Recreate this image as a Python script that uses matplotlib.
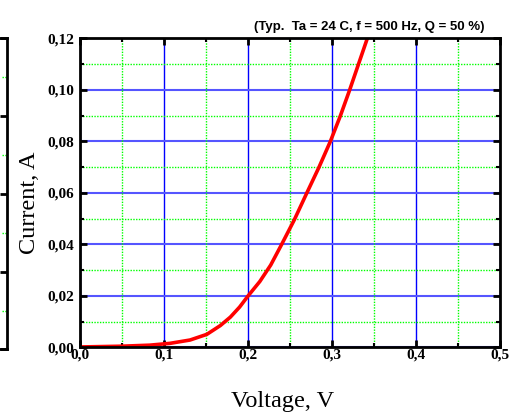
import matplotlib
matplotlib.use("Agg")
import matplotlib.pyplot as plt
from matplotlib.ticker import MultipleLocator, FuncFormatter

voltage = [0.0, 0.05, 0.083, 0.107, 0.131, 0.151, 0.167, 0.179, 0.190, 0.200, 0.214, 0.227,
           0.240, 0.255, 0.270, 0.2845, 0.298, 0.310, 0.321, 0.3315, 0.342, 0.352]
current = [0.0002, 0.0005, 0.0009, 0.0016, 0.0029, 0.0051, 0.0085, 0.0118, 0.0157, 0.0200, 0.0256, 0.032,
           0.0400, 0.0495, 0.060, 0.070, 0.080, 0.090, 0.100, 0.110, 0.120, 0.1295]

x_ticks = [0.0, 0.1, 0.2, 0.3, 0.4, 0.5]
y_ticks = [0.00, 0.02, 0.04, 0.06, 0.08, 0.10, 0.12]
title = "(Typ.  Ta = 24 C, f = 500 Hz, Q = 50 %)"
xlabel = "Voltage, V"
ylabel = "Current, A"

fig = plt.figure(figsize=(5.26, 4.16), dpi=100)

# partial neighbouring panel at the left edge
axl = fig.add_axes([-0.3, 0.1599, 0.3133, 0.7476])
axl.set_xlim(0, 1)
axl.set_ylim(0, 4)
for v in [0.5, 1.5, 2.5, 3.5]:
    axl.plot([0.97, 1.0], [v, v], color="#00ff00", lw=1, ls=(0, (1, 1)))
axl.yaxis.set_major_locator(MultipleLocator(1))
axl.tick_params(axis="y", which="major", direction="in", length=5, width=2,
                right=True, left=False, labelleft=False)
axl.set_xticks([])
for s in axl.spines.values():
    s.set_linewidth(2)

ax = fig.add_axes([0.1521, 0.1647, 0.7985, 0.7428])
ax.set_xlim(0, 0.5)
ax.set_ylim(0, 0.12)

for xv in x_ticks:
    ax.axvline(xv, color="#0000ff", lw=1.0, zorder=1)
for yv in y_ticks:
    ax.axhline(yv, color="#5555ff", lw=1.5, zorder=1)
for xv in [0.05, 0.15, 0.25, 0.35, 0.45]:
    ax.axvline(xv, color="#00ff00", lw=1.0, ls=(0, (1, 1)), zorder=1)
for yv in [0.01, 0.03, 0.05, 0.07, 0.09, 0.11]:
    ax.axhline(yv, color="#00ff00", lw=1.0, ls=(0, (1, 1)), zorder=1)

ax.plot(voltage, current, color="#ff0000", lw=2.6, zorder=3, clip_on=True,
        solid_joinstyle="round")

ax.set_xticks(x_ticks)
ax.set_yticks(y_ticks)
ax.xaxis.set_minor_locator(MultipleLocator(0.05))
ax.yaxis.set_minor_locator(MultipleLocator(0.01))
ax.xaxis.set_major_formatter(FuncFormatter(lambda v, p: f"{v:.1f}".replace(".", ",")))
ax.yaxis.set_major_formatter(FuncFormatter(lambda v, p: f"{v:.2f}".replace(".", ",")))
ax.tick_params(which="major", direction="in", length=5, width=2,
               top=True, right=True)
ax.tick_params(axis="x", which="major", pad=1)
ax.tick_params(axis="y", which="major", pad=4)
ax.tick_params(which="minor", direction="in", length=3, width=1.5,
               top=True, right=True)
for lab in ax.get_xticklabels() + ax.get_yticklabels():
    lab.set_fontfamily("Liberation Serif")
    lab.set_fontweight("bold")
    lab.set_fontsize(11)
for s in ax.spines.values():
    s.set_linewidth(2)
    s.set_zorder(5)

fig.text(0.538, 0.034, xlabel, family="Liberation Serif", fontsize=17.5,
         ha="center", va="center")
fig.text(0.057, 0.512, ylabel, family="Liberation Serif", fontsize=17.5,
         ha="center", va="center", rotation=90)
fig.text(0.921, 0.935, title, family="Liberation Sans", fontweight="bold",
         fontsize=9.5, ha="right", va="center")

fig.savefig("out.png", dpi=100)
